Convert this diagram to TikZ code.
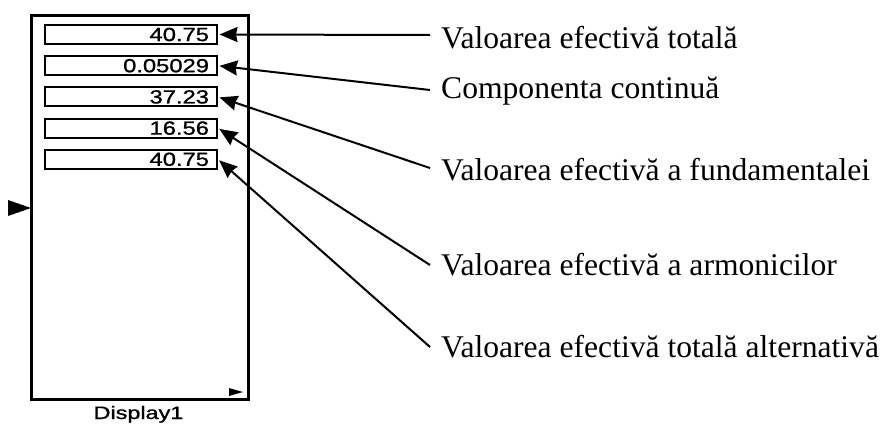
\documentclass[tikz,border=0pt]{standalone}
\usepackage{fontspec}
\usepackage{graphicx}
\setmainfont{Liberation Serif}
\newfontfamily\pixfont[FakeBold=1]{Liberation Sans}
\usetikzlibrary{arrows.meta}
\tikzset{
  dispbox/.style={draw, line width=2pt, minimum width=172pt, minimum height=19pt,
    text width=156pt, align=right, inner xsep=8pt, inner ysep=0pt,
    font=\pixfont\fontsize{19}{19}\selectfont},
  lbl/.style={anchor=base west, inner sep=0pt, font=\fontsize{31.6}{32}\selectfont},
  ptr/.style={line width=2pt, shorten >=1.5pt, -{Stealth[length=18pt,width=15pt,inset=1.5pt]}},
  frame/.style={draw, line width=3pt},
  port/.style={fill=black, draw=none}
}
\newcommand{\pix}[1]{\scalebox{1.25}[1]{#1}}
\begin{document}
\begin{tikzpicture}[x=1pt,y=-1pt]
\useasboundingbox (0,0) rectangle (890,423);
% main block
\draw[frame] (31.5,15) rectangle (248,399.5);
% ports
\fill[port] (8,200) -- (31,208) -- (8,216) -- cycle;
\fill[port] (229,388) -- (243,392) -- (229,396) -- cycle;
% display boxes
\node[dispbox] (b1) at (131,34.5) {\pix{40.75}};
\node[dispbox] (b2) at (131,65.7) {\pix{0.05029}};
\node[dispbox] (b3) at (131,96.9) {\pix{37.23}};
\node[dispbox] (b4) at (131,128.1) {\pix{16.56}};
\node[dispbox] (b5) at (131,159.3) {\pix{40.75}};
% block name
\node[anchor=base, inner sep=0pt, font=\pixfont\fontsize{18}{18}\selectfont] (name) at (138.5,419) {\scalebox{1.3}[1]{Display1}};
% labels
\node[lbl] (l1) at (441,48) {Valoarea efectivă totală};
\node[lbl] (l2) at (441,98) {Componenta continuă};
\node[lbl] (l3) at (441,180) {Valoarea efectivă a fundamentalei};
\node[lbl] (l4) at (441,275) {Valoarea efectivă a armonicilor};
\node[lbl] (l5) at (441,357) {Valoarea efectivă totală alternativă};
% connector ends
\coordinate (e1) at (430,35);
\coordinate (e2) at (430,90);
\coordinate (e3) at (430,168);
\coordinate (e4) at (430,265);
\coordinate (e5) at (430,347);
\draw[ptr] (e1) -- (b1.east);
\draw[ptr] (e2) -- (b2.east);
\draw[ptr] (e3) -- (b3.east);
\draw[ptr] (e4) -- (b4.east);
\draw[ptr] (e5) -- (b5.east);
\end{tikzpicture}
\end{document}
